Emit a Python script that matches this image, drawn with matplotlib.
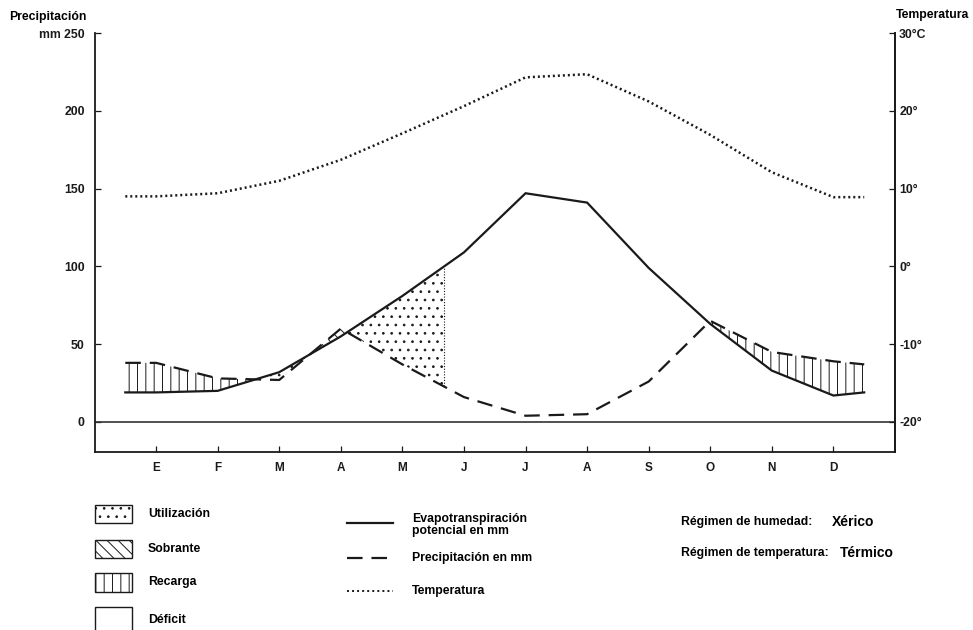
import numpy as np
import matplotlib
matplotlib.use("Agg")
import matplotlib.pyplot as plt
from matplotlib.patches import Rectangle
from matplotlib.lines import Line2D

# ---------------- data ----------------
months = ["E", "F", "M", "A", "M", "J", "J", "A", "S", "O", "N", "D"]
# x positions: half-month lead-in, the 12 months, half-month lead-out
x_pos = [0.5, 1, 2, 3, 4, 5, 6, 7, 8, 9, 10, 11, 12, 12.5]
etp = [19, 19, 20, 32, 55, 81, 109, 147, 141, 99, 63, 33, 17, 19]          # mm
precip = [38, 38, 28, 27, 60, 37, 16, 4, 5, 26, 65, 45, 39, 37]            # mm
temp = [9.0, 9.0, 9.4, 11.0, 13.7, 17.1, 20.6, 24.3, 24.7, 21.2, 16.9, 12.1, 8.9, 8.9]  # °C
util_end = 5.67   # end of the "Utilización" zone (months)

left_ticks = [0, 50, 100, 150, 200, 250]
left_labels = ["0", "50", "100", "150", "200", "mm 250"]
right_ticks = [-20, -10, 0, 10, 20, 30]
right_labels = ["-20°", "-10°", "0°", "10°", "20°", "30°C"]

# ---------------- style ----------------
plt.rcParams["font.family"] = ["Liberation Sans", "DejaVu Sans"]
plt.rcParams["font.weight"] = "bold"
plt.rcParams["hatch.linewidth"] = 0.7
INK = "#1a1a1a"
FS = 8.8

W, H = 973, 630
fig = plt.figure(figsize=(W / 100, H / 100), dpi=100)

def fx(px):
    return px / W

def fy(py):
    return 1 - py / H

ax = fig.add_axes([fx(94.5), fy(452), fx(895) - fx(94.5), fy(33) - fy(452)])
ymin, ymax = -19.3, 250
ax.set_xlim(0, 13)
ax.set_ylim(ymin, ymax)

# fills
xs = np.linspace(x_pos[0], x_pos[-1], 2000)
P = np.interp(xs, x_pos, precip)
E = np.interp(xs, x_pos, etp)

# Recarga (P > ETP) in winter & autumn
ax.fill_between(xs, E, P, where=(P > E) & ((xs < 3.2) | (xs > 8.5)), interpolate=True,
                facecolor="white", edgecolor=INK, hatch="||", linewidth=0)
# Sobrante around April
ax.fill_between(xs, E, P, where=(P > E) & (xs > 3.2) & (xs < 4.5), interpolate=True,
                facecolor="white", edgecolor=INK, hatch="\\\\\\", linewidth=0)
# Utilización
ax.fill_between(xs, P, E, where=(E > P) & (xs > 4.0) & (xs <= util_end), interpolate=True,
                facecolor="white", edgecolor=INK, hatch="..", linewidth=0)
ax.fill_between(xs, P, E, where=(E > P) & (xs > 2.4) & (xs < 3.6), interpolate=True,
                facecolor="white", edgecolor=INK, hatch="..", linewidth=0)
ax.vlines(util_end, np.interp(util_end, x_pos, precip), np.interp(util_end, x_pos, etp),
          colors=INK, linestyles=(0, (1, 1.5)), linewidth=0.8)

# lines
ax.plot(x_pos, etp, color=INK, lw=1.6, solid_joinstyle="miter")
ax.plot(x_pos, precip, color=INK, lw=1.6, linestyle=(0, (7, 4)))
ax.axhline(0, color="#333333", lw=1.2)

# axes styling
ax.spines["top"].set_visible(False)
for s in ["left", "right", "bottom"]:
    ax.spines[s].set_linewidth(1.3)
    ax.spines[s].set_color(INK)

ax.set_xticks(range(1, 13))
ax.set_xticklabels(months, fontsize=8.5, fontweight="bold")
ax.set_yticks(left_ticks)
ax.set_yticklabels(left_labels, fontsize=8.8, fontweight="bold")
ax.tick_params(axis="x", direction="in", length=4, width=0.9, pad=7, colors=INK)
ax.tick_params(axis="y", direction="in", length=4, width=0.9, pad=7, colors=INK)

ax2 = ax.twinx()
ax2.set_ylim(ymin / 5 - 20, ymax / 5 - 20)
ax2.plot(x_pos, temp, color=INK, lw=1.8, linestyle=(0, (0.8, 1.2)))
ax2.set_yticks(right_ticks)
ax2.set_yticklabels(right_labels, fontsize=8.8, fontweight="bold")
ax2.tick_params(axis="y", direction="in", length=4, width=0.9, pad=3, colors=INK)
for s in ["top", "left", "bottom"]:
    ax2.spines[s].set_visible(False)
ax2.spines["right"].set_linewidth(1.3)
ax2.spines["right"].set_color(INK)

# axis titles
fig.text(fx(86), fy(17), "Precipitación", ha="right", va="center", fontsize=8.8, fontweight="bold")
fig.text(fx(896), fy(15), "Temperatura", ha="left", va="center", fontsize=8.8)

# ---------------- legend (patches) ----------------
boxes = [("Utilización", 505, 523, ".."),
         ("Sobrante", 540, 558, "\\\\\\"),
         ("Recarga", 573, 592, "||"),
         ("Déficit", 607, 645, None)]
for label, y0, y1, hatch in boxes:
    r = Rectangle((fx(95), fy(y1)), fx(132) - fx(95), fy(y0) - fy(y1), transform=fig.transFigure,
                  facecolor="white", edgecolor=INK, lw=1.0, hatch=hatch, clip_on=False)
    fig.add_artist(r)
    yc = (y0 + y1) / 2 if hatch else 620
    fig.text(fx(148), fy(yc), label, ha="left", va="center", fontsize=FS)

# ---------------- legend (lines) ----------------
line_styles = [("-", 1.6, 523), ((0, (7, 4)), 1.6, 558), ((0, (1, 1.6)), 1.4, 591)]
for ls, lw, yy in line_styles:
    fig.add_artist(Line2D([fx(347), fx(393)], [fy(yy), fy(yy)], transform=fig.transFigure,
                          color=INK, lw=lw, linestyle=ls))
fig.text(fx(412), fy(525), "Evapotranspiración\npotencial en mm", ha="left", va="center",
         fontsize=FS, linespacing=1.05)
fig.text(fx(412), fy(558), "Precipitación en mm", ha="left", va="center", fontsize=FS)
fig.text(fx(412), fy(591), "Temperatura", ha="left", va="center", fontsize=FS)

# ---------------- regime texts ----------------
fig.text(fx(681), fy(522), "Régimen de humedad:", ha="left", va="center", fontsize=FS)
fig.text(fx(832), fy(522), "Xérico", ha="left", va="center", fontsize=10, fontweight="heavy")
fig.text(fx(681), fy(553), "Régimen de temperatura:", ha="left", va="center", fontsize=FS)
fig.text(fx(840), fy(553), "Térmico", ha="left", va="center", fontsize=10, fontweight="heavy")

fig.savefig("out.png", dpi=100, facecolor="white")
